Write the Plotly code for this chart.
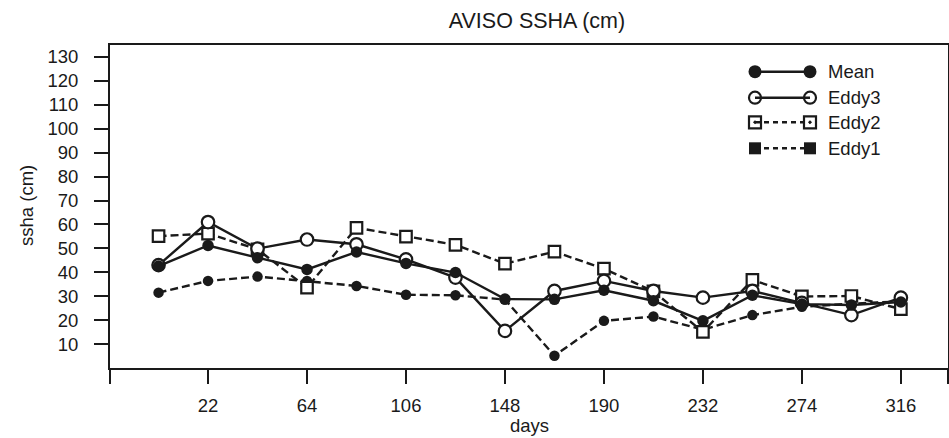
import plotly.graph_objects as go

days = [1, 22, 43, 64, 85, 106, 127, 148, 169, 190, 211, 232, 253, 274, 295, 316]
mean_vals = [42.6, 51.2, 46.1, 41.2, 48.5, 43.7, 39.9, 28.8, 28.7, 32.5, 28.1, 19.7, 30.4, 26.7, 26.3, 27.6]
eddy3_vals = [43.0, 61.0, 49.9, 53.7, 51.7, 45.4, 37.8, 15.5, 32.2, 36.4, 32.2, 29.4, 32.2, 27.2, 22.1, 29.4]
eddy2_vals = [55.1, 56.2, 49.6, 33.6, 58.6, 54.9, 51.5, 43.6, 48.6, 41.5, 32.0, 15.1, 36.8, 29.9, 30.1, 24.6]
eddy1_vals = [31.5, 36.4, 38.2, 36.4, 34.3, 30.6, 30.4, 28.6, 5.1, 19.7, 21.5, 16.0, 22.1, 25.6, 26.9, 27.8]

x_ticks = [22, 64, 106, 148, 190, 232, 274, 316]
y_ticks = [10, 20, 30, 40, 50, 60, 70, 80, 90, 100, 110, 120, 130]
x_range = [-19.6, 336]
y_range = [0, 135]

INK = "#1a1a1a"
FONT = "Liberation Sans, Arial, sans-serif"
DASH = "8px,4px"
FS = 18.5
LW = 2.4

# plot area in pixels
L, R, T, B = 110, 948, 45, 368
W, H = 949, 438


def px_x(px):
    return (px - L) / (R - L)


def px_y(py):
    return (B - py) / (B - T)


fig = go.Figure()

# draw order bottom -> top: Eddy1, Eddy2, Eddy3, Mean
fig.add_trace(go.Scatter(x=days, y=eddy1_vals, mode="lines+markers", name="Eddy1",
                         line=dict(color=INK, width=LW, dash=DASH),
                         marker=dict(symbol="circle", size=10.5, color=INK), showlegend=False))
fig.add_trace(go.Scatter(x=days, y=eddy2_vals, mode="lines+markers", name="Eddy2",
                         line=dict(color=INK, width=LW, dash=DASH),
                         marker=dict(symbol="square", size=11.5, color="white",
                                     line=dict(color=INK, width=2.2)), showlegend=False))
fig.add_trace(go.Scatter(x=days, y=eddy3_vals, mode="lines+markers", name="Eddy3",
                         line=dict(color=INK, width=LW),
                         marker=dict(symbol="circle", size=12.5, color="white",
                                     line=dict(color=INK, width=2.2)), showlegend=False))
fig.add_trace(go.Scatter(x=days, y=mean_vals, mode="lines+markers", name="Mean",
                         line=dict(color=INK, width=LW),
                         marker=dict(symbol="circle", size=11.5, color=INK), showlegend=False))

# manual legend on a pixel-space overlay axis
legend_names = ["Mean", "Eddy3", "Eddy2", "Eddy1"]
legend_rows = [71.7, 97.7, 122.3, 148.3]
legend_styles = [
    dict(line=dict(color=INK, width=LW), marker=dict(symbol="circle", size=13, color=INK)),
    dict(line=dict(color=INK, width=LW), marker=dict(symbol="circle-open", size=12, color=INK, line=dict(width=2.2))),
    dict(line=dict(color=INK, width=LW, dash="5px,4px"), marker=dict(symbol="square-open-dot", size=12, color=INK, line=dict(width=2.2))),
    dict(line=dict(color=INK, width=LW, dash="5px,4px"), marker=dict(symbol="square", size=12, color=INK)),
]
for name, row, st in zip(legend_names, legend_rows, legend_styles):
    fig.add_trace(go.Scatter(x=[755, 810], y=[row, row], mode="lines+markers",
                             xaxis="x2", yaxis="y2", showlegend=False, hoverinfo="skip", **st))
    fig.add_annotation(x=826, y=row, xref="x2", yref="y2", text=name, showarrow=False,
                       xanchor="left", yanchor="middle", font=dict(family=FONT, size=FS, color=INK))

axis_common = dict(showline=True, linewidth=2, linecolor=INK, mirror=True, ticks="outside",
                   ticklen=14, tickwidth=1.5, tickcolor=INK, showgrid=False, zeroline=False,
                   automargin=False, tickfont=dict(family=FONT, size=FS, color=INK))

# axis titles placed in paper space
fig.add_annotation(x=px_x(529), y=px_y(425), xref="paper", yref="paper", text="days",
                   showarrow=False, xanchor="center", yanchor="middle",
                   font=dict(family=FONT, size=FS, color=INK))
fig.add_annotation(x=px_x(26), y=px_y(206), xref="paper", yref="paper", text="ssha (cm)",
                   showarrow=False, textangle=-90, xanchor="center", yanchor="middle",
                   font=dict(family=FONT, size=FS, color=INK))

fig.update_layout(
    width=W, height=H,
    margin=dict(l=L, r=W - R, t=T, b=H - B, pad=0),
    paper_bgcolor="white", plot_bgcolor="white",
    title=dict(text="AVISO SSHA (cm)", x=px_x(537), xref="paper", xanchor="center",
               y=1 - 20.5 / H, yref="container", yanchor="middle",
               font=dict(family=FONT, size=21.5, color=INK)),
    xaxis=dict(range=x_range, tickvals=[x_range[0]] + x_ticks + [x_range[1]],
               ticktext=[""] + [str(v) for v in x_ticks] + [""],
               ticklabelstandoff=6, **axis_common),
    yaxis=dict(range=y_range, tickvals=y_ticks, ticktext=[str(v) for v in y_ticks],
               ticklabelstandoff=12, **axis_common),
    xaxis2=dict(overlaying="x", anchor="y2", range=[L, R], visible=False, fixedrange=True),
    yaxis2=dict(overlaying="y", anchor="x2", range=[B, T], visible=False, fixedrange=True),
    showlegend=False,
)

fig.write_html("out.html", config={"displayModeBar": False},
               post_script="document.body.style.margin='0';document.body.style.padding='0';")
